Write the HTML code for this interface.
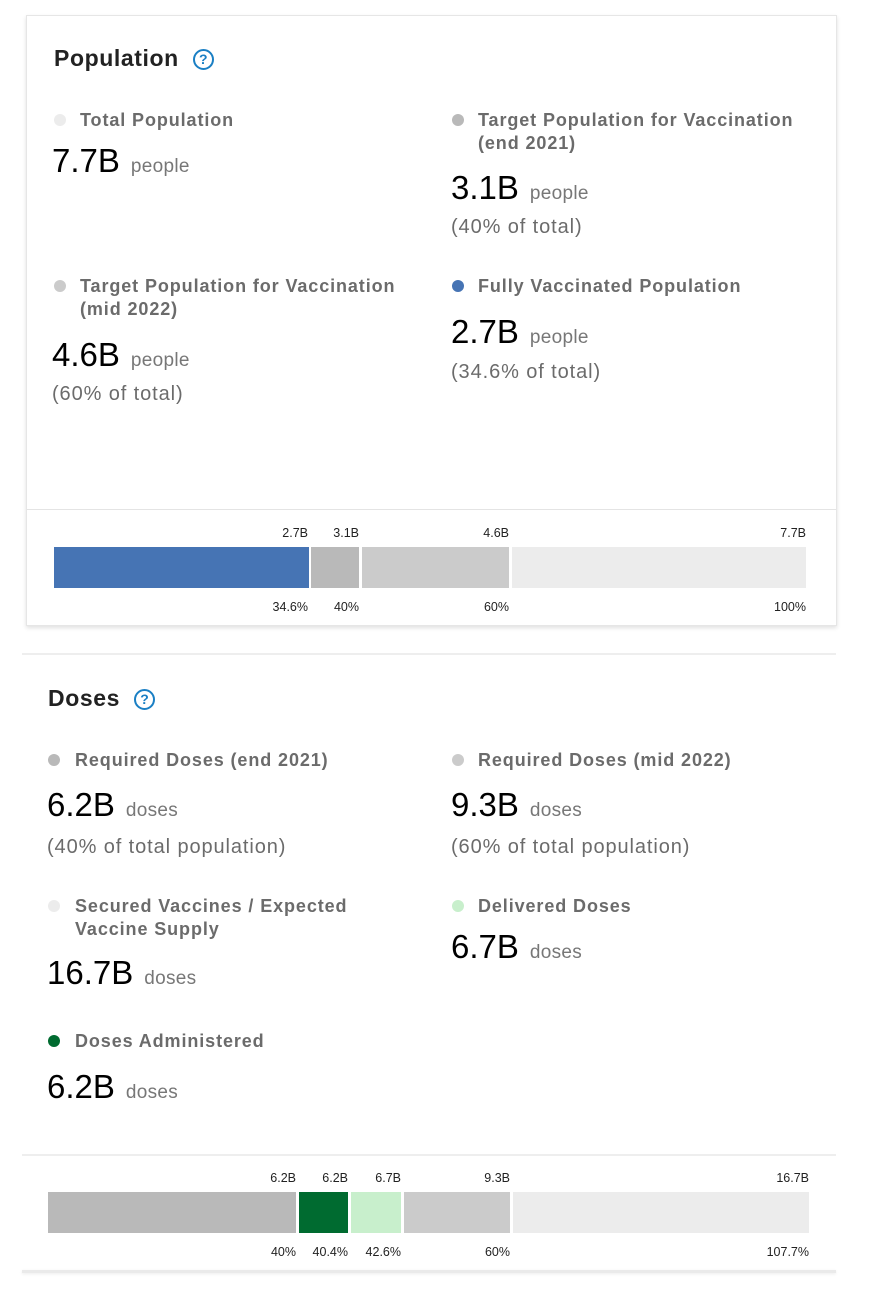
<!DOCTYPE html>
<html><head><meta charset="utf-8"><style>
*{margin:0;padding:0;box-sizing:border-box}
body{width:884px;height:1302px;background:#fff;position:relative;font-family:"Liberation Sans",sans-serif;overflow:hidden}
.a{position:absolute;white-space:nowrap}
.card{position:absolute;left:26px;top:15px;width:811px;height:611px;border:1px solid #e6e6e6;box-shadow:0 2px 4px rgba(0,0,0,0.12);background:#fff}
.t{font-size:23px;font-weight:bold;color:#222;line-height:26px;letter-spacing:0.6px}
.q{display:inline-block;width:21px;height:21px;border:2px solid #1a7fc4;border-radius:50%;color:#1a7fc4;font-size:14px;font-weight:bold;text-align:center;line-height:17px;vertical-align:2px;margin-left:14px;letter-spacing:0}
.l{font-size:18px;font-weight:bold;color:#6b6b6b;line-height:23px;letter-spacing:0.9px}
.d{position:absolute;width:12px;height:12px;border-radius:50%}
.n{font-size:33px;color:#000;line-height:40px}
.n span{font-size:19px;color:#777;margin-left:11px;letter-spacing:0.3px}
.p{font-size:20px;color:#6b6b6b;line-height:26px;letter-spacing:0.9px}
.s{position:absolute;height:41px}
.k{position:absolute;font-size:12.5px;color:#222;line-height:14px;text-align:right;width:60px}
.hr{position:absolute;height:2px;background:#eee}
</style></head><body>
<div class="card"></div>
<div class="hr" style="left:27px;top:509px;width:809px;height:1px;background:#e4e4e4"></div>

<div class="a t" style="left:54px;top:45px">Population<span class="q">?</span></div>

<div class="d" style="left:54px;top:114px;background:#ececec"></div>
<div class="a l" style="left:80px;top:109px">Total Population</div>
<div class="a n" style="left:52px;top:141px">7.7B<span>people</span></div>

<div class="d" style="left:452px;top:114px;background:#b9b9b9"></div>
<div class="a l" style="left:478px;top:109px">Target Population for Vaccination<br>(end 2021)</div>
<div class="a n" style="left:451px;top:168px">3.1B<span>people</span></div>
<div class="a p" style="left:451px;top:214px">(40% of total)</div>

<div class="d" style="left:54px;top:280px;background:#cbcbcb"></div>
<div class="a l" style="left:80px;top:275px">Target Population for Vaccination<br>(mid 2022)</div>
<div class="a n" style="left:52px;top:335px">4.6B<span>people</span></div>
<div class="a p" style="left:52px;top:381px">(60% of total)</div>

<div class="d" style="left:452px;top:280px;background:#4674b4"></div>
<div class="a l" style="left:478px;top:275px">Fully Vaccinated Population</div>
<div class="a n" style="left:451px;top:312px">2.7B<span>people</span></div>
<div class="a p" style="left:451px;top:359px">(34.6% of total)</div>

<div class="s" style="left:54px;top:547px;width:255px;background:#4674b4"></div>
<div class="s" style="left:311px;top:547px;width:48px;background:#b9b9b9"></div>
<div class="s" style="left:362px;top:547px;width:147px;background:#cbcbcb"></div>
<div class="s" style="left:512px;top:547px;width:294px;background:#ececec"></div>
<div class="k" style="left:248px;top:526px">2.7B</div>
<div class="k" style="left:299px;top:526px">3.1B</div>
<div class="k" style="left:449px;top:526px">4.6B</div>
<div class="k" style="left:746px;top:526px">7.7B</div>
<div class="k" style="left:248px;top:600px">34.6%</div>
<div class="k" style="left:299px;top:600px">40%</div>
<div class="k" style="left:449px;top:600px">60%</div>
<div class="k" style="left:746px;top:600px">100%</div>

<div class="hr" style="left:22px;top:653px;width:814px"></div>
<div class="a t" style="left:48px;top:685px">Doses<span class="q">?</span></div>

<div class="d" style="left:48px;top:754px;background:#b9b9b9"></div>
<div class="a l" style="left:75px;top:749px">Required Doses (end 2021)</div>
<div class="a n" style="left:47px;top:785px">6.2B<span>doses</span></div>
<div class="a p" style="left:47px;top:834px">(40% of total population)</div>

<div class="d" style="left:452px;top:754px;background:#cbcbcb"></div>
<div class="a l" style="left:478px;top:749px">Required Doses (mid 2022)</div>
<div class="a n" style="left:451px;top:785px">9.3B<span>doses</span></div>
<div class="a p" style="left:451px;top:834px">(60% of total population)</div>

<div class="d" style="left:48px;top:900px;background:#ececec"></div>
<div class="a l" style="left:75px;top:895px">Secured Vaccines / Expected<br>Vaccine Supply</div>
<div class="a n" style="left:47px;top:953px">16.7B<span>doses</span></div>

<div class="d" style="left:452px;top:900px;background:#c8efcc"></div>
<div class="a l" style="left:478px;top:895px">Delivered Doses</div>
<div class="a n" style="left:451px;top:927px">6.7B<span>doses</span></div>

<div class="d" style="left:48px;top:1035px;background:#006b30"></div>
<div class="a l" style="left:75px;top:1030px">Doses Administered</div>
<div class="a n" style="left:47px;top:1067px">6.2B<span>doses</span></div>

<div class="hr" style="left:22px;top:1154px;width:814px"></div>
<div class="s" style="left:48px;top:1192px;width:248px;background:#b9b9b9"></div>
<div class="s" style="left:299px;top:1192px;width:49px;background:#006b30"></div>
<div class="s" style="left:351px;top:1192px;width:50px;background:#c8efcc"></div>
<div class="s" style="left:404px;top:1192px;width:106px;background:#cbcbcb"></div>
<div class="s" style="left:513px;top:1192px;width:296px;background:#ececec"></div>
<div class="k" style="left:236px;top:1171px">6.2B</div>
<div class="k" style="left:288px;top:1171px">6.2B</div>
<div class="k" style="left:341px;top:1171px">6.7B</div>
<div class="k" style="left:450px;top:1171px">9.3B</div>
<div class="k" style="left:749px;top:1171px">16.7B</div>
<div class="k" style="left:236px;top:1245px">40%</div>
<div class="k" style="left:288px;top:1245px">40.4%</div>
<div class="k" style="left:341px;top:1245px">42.6%</div>
<div class="k" style="left:450px;top:1245px">60%</div>
<div class="k" style="left:749px;top:1245px">107.7%</div>
<div class="hr" style="left:22px;top:1270px;width:814px;height:3px;background:#eaeaea;box-shadow:0 1px 3px rgba(0,0,0,0.08)"></div>
</body></html>
